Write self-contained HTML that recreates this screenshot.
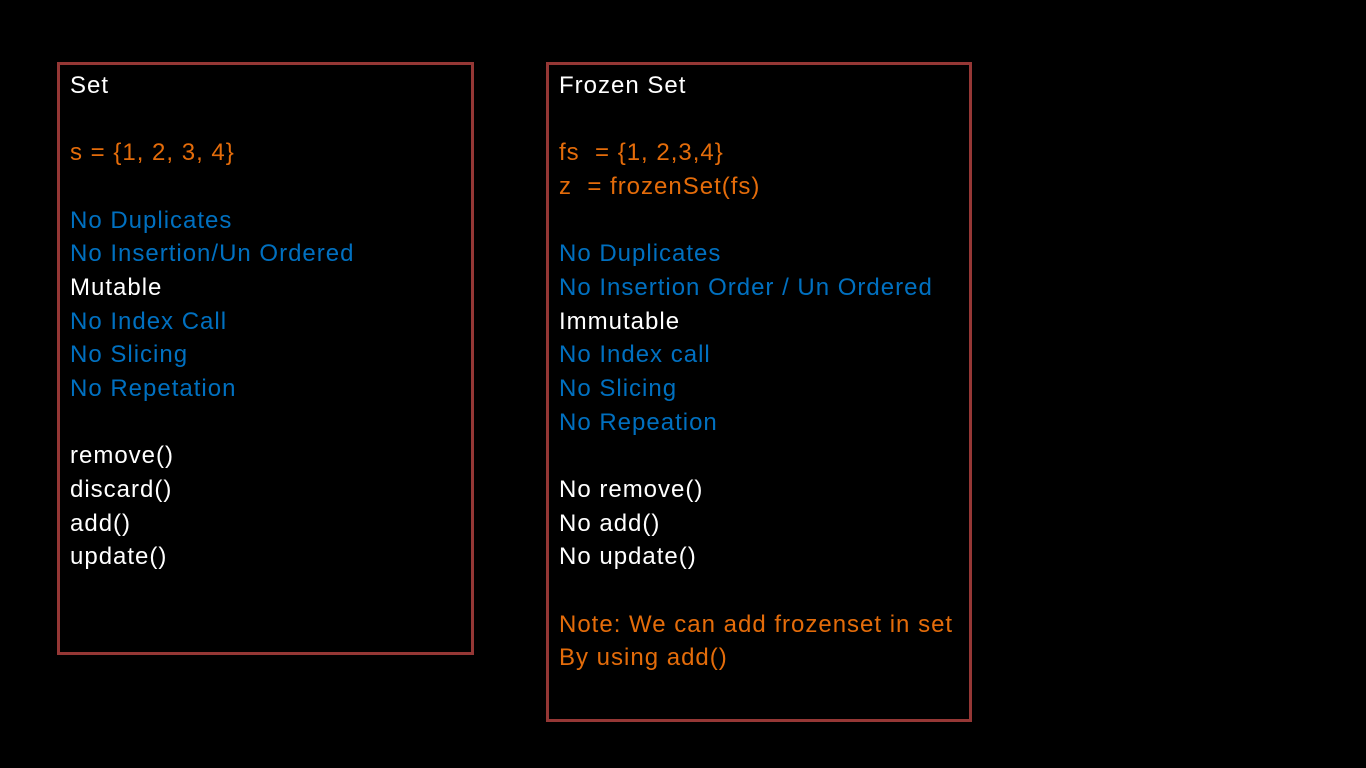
<!DOCTYPE html>
<html><head><meta charset="utf-8"><style>
body{margin:0;width:1366px;height:768px;background:#000;overflow:hidden;position:relative;font-family:"Liberation Sans",sans-serif;}
.box{position:absolute;border:3px solid #953735;box-sizing:border-box;}
.t{position:absolute;font-size:24px;letter-spacing:1px;line-height:33.67px;white-space:pre;color:#fff;}
.o{color:#e46c0a}.b{color:#0070c0}.w{color:#fff}
</style></head><body>
<div class="box" style="left:57px;top:62px;width:417px;height:593px"></div>
<div class="box" style="left:546px;top:62px;width:426px;height:660px"></div>
<div class="t" style="left:70px;top:69px"><span class="w">Set</span>

<span class="o">s = {1, 2, 3, 4}</span>

<span class="b">No Duplicates</span>
<span class="b">No Insertion/Un Ordered</span>
<span class="w">Mutable</span>
<span class="b">No Index Call</span>
<span class="b">No Slicing</span>
<span class="b">No Repetation</span>

<span class="w">remove()</span>
<span class="w">discard()</span>
<span class="w">add()</span>
<span class="w">update()</span></div>
<div class="t" style="left:559px;top:69px"><span class="w">Frozen Set</span>

<span class="o">fs  = {1, 2,3,4}</span>
<span class="o">z  = frozenSet(fs)</span>

<span class="b">No Duplicates</span>
<span class="b">No Insertion Order / Un Ordered</span>
<span class="w">Immutable</span>
<span class="b">No Index call</span>
<span class="b">No Slicing</span>
<span class="b">No Repeation</span>

<span class="w">No remove()</span>
<span class="w">No add()</span>
<span class="w">No update()</span>

<span class="o">Note: We can add frozenset in set</span>
<span class="o">By using add()</span></div>
</body></html>
